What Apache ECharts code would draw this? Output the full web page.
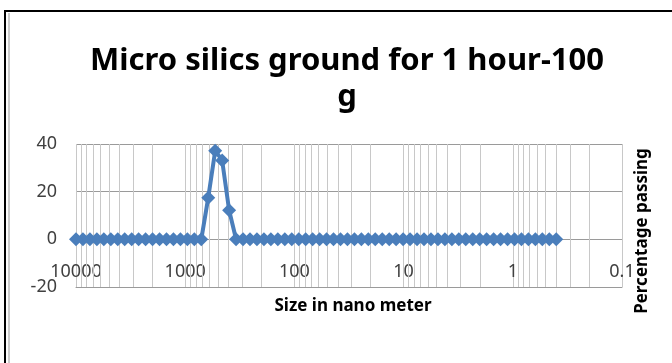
<!DOCTYPE html>
<html>
<head>
<meta charset="utf-8">
<script src="https://cdn.jsdelivr.net/npm/echarts@6/dist/echarts.min.js"></script>
<style>
    html, body {margin: 0; padding: 0; background: #fff;}
    #chart {width: 672px; height: 363px;}
</style>
</head>
<body>
<div id="chart"></div>
<script>
// size classes (nm) and percentage in each class
var sizes = [0.4, 0.4632, 0.5365, 0.6213, 0.7195, 0.8332, 0.9649, 1.117, 1.294, 1.499,
    1.736, 2.01, 2.328, 2.696, 3.122, 3.615, 4.187, 4.849, 5.615, 6.503,
    7.531, 8.721, 10.1, 11.7, 13.54, 15.69, 18.17, 21.04, 24.36, 28.21,
    32.67, 37.84, 43.82, 50.75, 58.77, 68.06, 78.82, 91.28, 105.7, 122.4,
    141.8, 164.2, 190.1, 220.2, 255.0, 295.3, 342.0, 396.1, 458.7, 531.2,
    615.1, 712.4, 825.0, 955.4, 1106, 1281, 1484, 1718, 1990, 2305,
    2669, 3091, 3580, 4145, 4801, 5560, 6439, 7456, 8635, 10000];
var percents = [0, 0, 0, 0, 0, 0, 0, 0, 0, 0,
    0, 0, 0, 0, 0, 0, 0, 0, 0, 0,
    0, 0, 0, 0, 0, 0, 0, 0, 0, 0,
    0, 0, 0, 0, 0, 0, 0, 0, 0, 0,
    0, 0, 0, 0, 0, 0, 0, 12.2, 33.1, 37.2,
    17.5, 0, 0, 0, 0, 0, 0, 0, 0, 0,
    0, 0, 0, 0, 0, 0, 0, 0, 0, 0];
var yTicks = [-20, 0, 20, 40];
var minorGrid = [0.2, 0.3, 0.4, 0.5, 0.6, 0.7, 0.8, 0.9,
    2, 3, 4, 5, 6, 7, 8, 9,
    20, 30, 40, 50, 60, 70, 80, 90,
    200, 300, 400, 500, 600, 700, 800, 900,
    2000, 3000, 4000, 5000, 6000, 7000, 8000, 9000];

var labelFont = "'Noto Sans', sans-serif";
var titleFont = "'Noto Sans', sans-serif";

var chart = echarts.init(document.getElementById('chart'));
var option = {
    animation: false,
    backgroundColor: '#fff',
    title: [{
        text: 'Micro silics ground for 1 hour-100\ng',
        left: 342,
        top: 38,
        textAlign: 'center',
        textStyle: {fontFamily: titleFont, fontSize: 31, fontWeight: 'bold', color: '#000', lineHeight: 36}
    }, {
        text: 'Size in nano meter',
        left: 348,
        top: 293,
        textAlign: 'center',
        textStyle: {fontFamily: titleFont, fontSize: 17, fontWeight: 'bold', color: '#000'}
    }],
    graphic: [{
        type: 'rect',
        shape: {x: 5, y: 11, width: 720, height: 400},
        style: {fill: 'none', stroke: '#000', lineWidth: 2}
    }, {
        type: 'line',
        shape: {x1: 9, y1: 13, x2: 9, y2: 363},
        style: {stroke: '#999', lineWidth: 1}
    }, {
        type: 'text',
        x: 642,
        y: 231,
        rotation: Math.PI / 2,
        style: {
            text: 'Percentage passing',
            align: 'center',
            verticalAlign: 'middle',
            font: "bold 17px " + titleFont,
            fill: '#000'
        }
    }],
    grid: {left: 76, right: 50, top: 144, bottom: 76},
    xAxis: {
        type: 'log',
        logBase: 10,
        min: 0.1,
        max: 10000,
        inverse: true,
        axisLine: {onZero: false, lineStyle: {color: '#9a9a9a', width: 1}},
        axisTick: {show: false},
        axisLabel: {
            margin: -24,
            fontFamily: labelFont,
            fontSize: 18,
            color: '#404040',
            formatter: function (v) { return String(v); }
        },
        splitLine: {show: true, lineStyle: {color: '#c8c8c8', width: 1}}
    },
    yAxis: {
        type: 'value',
        min: yTicks[0],
        max: yTicks[yTicks.length - 1],
        interval: 20,
        axisLine: {show: false},
        axisTick: {show: false},
        axisLabel: {margin: 19, fontFamily: labelFont, fontSize: 18, color: '#404040'},
        splitLine: {lineStyle: {color: '#9a9a9a', width: 1}}
    },
    series: [{
        type: 'line',
        data: sizes.map(function (s, i) { return [s, percents[i]]; }),
        symbol: 'diamond',
        symbolSize: 14,
        showAllSymbol: true,
        lineStyle: {color: '#4a7ebb', width: 4},
        itemStyle: {color: '#4a7ebb'},
        markLine: {
            silent: true,
            symbol: 'none',
            label: {show: false},
            lineStyle: {color: '#c8c8c8', type: 'solid', width: 1},
            data: minorGrid.map(function (v) { return {xAxis: v}; }),
            z: 1
        },
        z: 3
    }]
};
chart.setOption(option);
</script>
</body>
</html>
